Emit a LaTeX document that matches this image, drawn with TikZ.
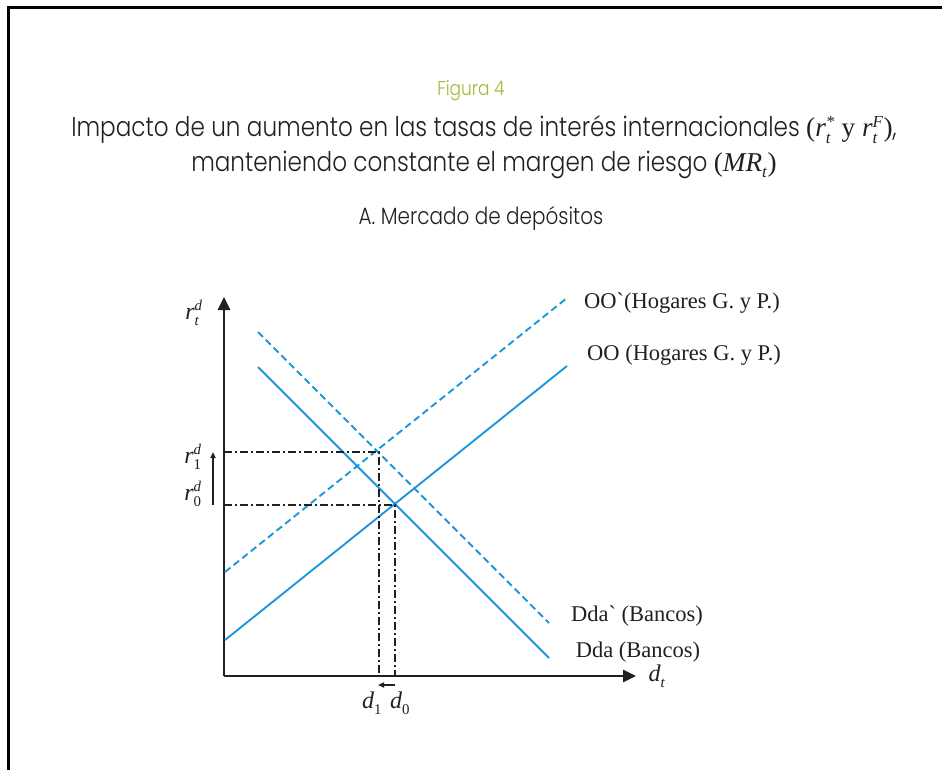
\documentclass[tikz,border=0pt]{standalone}
\usepackage{fontspec}
\setmainfont{Liberation Serif}
\IfFontExistsTF{Poppins Light}
  {\newfontfamily\fut{Poppins Light}[FakeStretch=0.85]}
  {\newfontfamily\fut{Poppins}[FakeStretch=0.85]}
\usetikzlibrary{arrows.meta}
\definecolor{blu}{RGB}{30,150,220}
\definecolor{olv}{RGB}{160,185,60}
\definecolor{ink}{RGB}{35,31,32}
\newcommand\sm[1]{\mbox{\scalebox{0.62}{#1}}}
\newcommand\rsd[3]{\ensuremath{\mbox{\textit{#1}}^{\sm{\textit{#3}}}_{\sm{#2}}}}
\begin{document}
\begin{tikzpicture}[x=1pt,y=-1pt,
  frame/.style={line width=2.5pt,black},
  axis/.style={line width=2.6pt,ink,-{Triangle[length=13pt,width=12pt]}},
  guide/.style={line width=1.4pt,ink,dash pattern=on 8pt off 3pt on 2pt off 3pt},
  solidcurve/.style={line width=1.9pt,blu},
  dashcurve/.style={line width=1.9pt,blu,dash pattern=on 7pt off 4pt},
  small/.style={line width=1.5pt,ink,-{Triangle[length=6pt,width=5pt]}},
  lbl/.style={text=ink,font=\fontsize{22.5}{26}\selectfont,inner sep=0pt},
  mlbl/.style={text=ink,font=\fontsize{24}{27}\selectfont,inner sep=0pt},
  ttl/.style={font=\fut\fontsize{27.2}{32}\selectfont,text=ink,inner sep=0pt}]
\useasboundingbox (0,0) rectangle (942,770);
% frame
\coordinate (fa) at (942,7.3);
\coordinate (fb) at (8.5,7.3);
\coordinate (fc) at (8.5,770);
\draw[frame] (fa) -- (fb) -- (fc);
% titles
\node[ttl,text=olv,font=\fut\fontsize{20}{24}\selectfont] (fig) at (471,91) {Figura 4};
\node[ttl] (t1) at (484,130) {Impacto de un aumento en las tasas de interés internacionales {\rmfamily(\rsd{r}{\textit{t}}{*} y \rsd{r}{\textit{t}}{F})},};
\node[ttl] (t2) at (484,165) {manteniendo constante el margen de riesgo {\rmfamily(\rsd{MR}{\textit{t}}{})}};
\node[ttl,font=\fut\fontsize{23.5}{27}\selectfont] (t3) at (481,218) {A. Mercado de depósitos};
% axes
\coordinate (O) at (224,676);
\coordinate (ytop) at (224,297);
\coordinate (xend) at (636,676);
\draw[axis] (O) -- (ytop);
\draw[axis] (O) -- (xend);
% curves
\coordinate (oo1) at (225,640);
\coordinate (oo2) at (567,366);
\coordinate (op1) at (225,572);
\coordinate (op2) at (567,298);
\coordinate (dd1) at (258,367);
\coordinate (dd2) at (549,658);
\coordinate (dp1) at (258,332);
\coordinate (dp2) at (549,623);
\draw[solidcurve] (oo1) -- (oo2);
\draw[dashcurve] (op1) -- (op2);
\draw[solidcurve] (dd1) -- (dd2);
\draw[dashcurve] (dp1) -- (dp2);
% equilibria and guides
\coordinate (E1) at (379,452);
\coordinate (E0) at (395,505);
\coordinate (y1) at (224,452);
\coordinate (y0) at (224,505);
\coordinate (x1) at (379,676);
\coordinate (x0) at (395,676);
\draw[guide] (y1) -- (E1) -- (x1);
\draw[guide] (y0) -- (E0) -- (x0);
% shift arrows
\coordinate (ra) at (213,505);
\coordinate (rb) at (213,452);
\draw[small] (ra) -- (rb);
\coordinate (da) at (395,685);
\coordinate (db) at (378,685);
\draw[small] (da) -- (db);
% labels
\node[mlbl] (rt) at (194,313) {\rsd{r}{\textit{t}}{d}};
\node[mlbl] (r1) at (193,457) {\rsd{r}{1}{d}};
\node[mlbl] (r0) at (193,494) {\rsd{r}{0}{d}};
\node[mlbl] (dt) at (657,676) {\rsd{d}{\textit{t}}{}};
\node[mlbl] (d1) at (372,703) {\rsd{d}{1}{}};
\node[mlbl] (d0) at (400,703) {\rsd{d}{0}{}};
\node[lbl] (lop) at (682,303) {OO\textasciigrave(Hogares G. y P.)};
\node[lbl] (loo) at (684,355) {OO (Hogares G. y P.)};
\node[lbl] (ldp) at (637,616) {Dda\textasciigrave{} (Bancos)};
\node[lbl] (ldd) at (638,652) {Dda (Bancos)};
\end{tikzpicture}
\end{document}
